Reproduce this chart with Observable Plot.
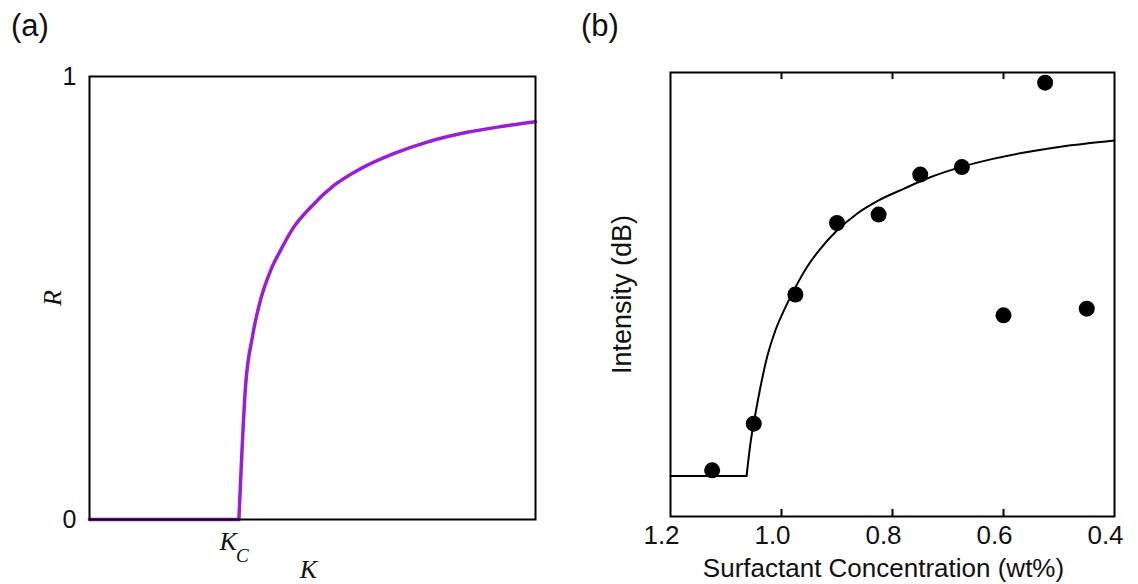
<!DOCTYPE html>
<html>
<head>
<meta charset="utf-8">
<script src="https://cdn.jsdelivr.net/npm/d3@7"></script>
<script src="https://cdn.jsdelivr.net/npm/@observablehq/plot@0.6"></script>
<style>
  html, body { margin: 0; padding: 0; background: #fff; }
  #wrap { position: relative; width: 1138px; height: 584px; overflow: hidden; font-family: "Liberation Sans", Arial, sans-serif; }
  .panel { position: absolute; top: 0; }
  .plabel { position: absolute; font-size: 31px; line-height: 31px; color: #111; }
</style>
</head>
<body>
<div id="wrap">
  <div class="panel" id="pa" style="left:0"></div>
  <div class="panel" id="pb" style="left:569px"></div>
  <div class="plabel" style="left:11px; top:10px">(a)</div>
  <div class="plabel" style="left:581px; top:10px">(b)</div>
</div>
<script>
// ---- Panel (a) data ----
const kFlat = [0, 0.335];
const rFlat = [0, 0];
const kValues = [0.335, 0.350, 0.365, 0.383, 0.406, 0.428, 0.458, 0.496, 0.548, 0.608, 0.682, 0.757, 0.847, 0.922, 1.0];
const rValues = [0, 0.302, 0.411, 0.494, 0.562, 0.607, 0.660, 0.705, 0.754, 0.792, 0.826, 0.852, 0.874, 0.887, 0.898];
const kcValue = 0.335;
const yTicksA = [0, 1];

// ---- Panel (b) data ----
const concentration = [1.125, 1.05, 0.975, 0.9, 0.825, 0.75, 0.675, 0.6, 0.525, 0.45];
const intensity = [0.104, 0.209, 0.500, 0.661, 0.680, 0.770, 0.787, 0.453, 0.977, 0.468];
const fitFlatConc = [1.2, 1.063];
const fitFlatVal = [0.091, 0.091];
const fitConc = [1.063, 1.056, 1.047, 1.038, 1.026, 1.011, 0.993, 0.975, 0.954, 0.930, 0.900, 0.864, 0.825, 0.780, 0.732, 0.674, 0.617, 0.557, 0.497, 0.4];
const fitVal = [0.091, 0.164, 0.231, 0.291, 0.359, 0.419, 0.471, 0.516, 0.562, 0.603, 0.644, 0.682, 0.712, 0.738, 0.764, 0.788, 0.806, 0.821, 0.833, 0.847];
const xTickLabelsB = [1.2, 1.0, 0.8, 0.6, 0.4];
const xInnerTicksB = [1.0, 0.8, 0.6];

const sans = "Liberation Sans, Arial, sans-serif";
const serif = "Liberation Serif, Times New Roman, serif";
const purple = "#9a1ed6";
const innerTickLen = 0.016; // length of inward ticks, as a fraction of the y domain

const flatA = kFlat.map((k, i) => ({k, r: rFlat[i]}));
const curveA = kValues.map((k, i) => ({k, r: rValues[i]}));
const pointsB = concentration.map((c, i) => ({c, v: intensity[i]}));
const flatB = fitFlatConc.map((c, i) => ({c, v: fitFlatVal[i]}));
const fitB = fitConc.map((c, i) => ({c, v: fitVal[i]}));
const ticksB = xInnerTicksB.map(c => ({c}));

const plotA = Plot.plot({
  width: 569, height: 584,
  marginLeft: 89, marginRight: 34, marginTop: 76, marginBottom: 65,
  x: {domain: [0, 1], axis: null},
  y: {domain: [0, 1], axis: null},
  style: {fontFamily: sans, fontSize: "25px", background: "transparent", overflow: "visible", color: "#111"},
  marks: [
    Plot.axisY({ticks: yTicksA, tickSize: 0, tickPadding: 13, label: null, fontSize: 25, tickFormat: d3.format("d")}),
    Plot.line(flatA, {x: "k", y: "r", stroke: purple, strokeWidth: 3.5}),
    Plot.line(curveA, {x: "k", y: "r", stroke: purple, strokeWidth: 3.5, curve: "monotone-x"}),
    Plot.frame({stroke: "black", strokeWidth: 2}),
    Plot.text([kcValue], {x: d => d, text: () => "K", frameAnchor: "bottom", textAnchor: "end", dx: -2, dy: 22, lineAnchor: "middle", fontFamily: serif, fontStyle: "italic", fontSize: 26}),
    Plot.text([kcValue], {x: d => d, text: () => "C", frameAnchor: "bottom", textAnchor: "start", dx: -3, dy: 36, lineAnchor: "middle", fontFamily: serif, fontStyle: "italic", fontSize: 19}),
    Plot.text(["K"], {text: d => d, frameAnchor: "bottom", textAnchor: "middle", dx: -4, dy: 50, lineAnchor: "middle", fontFamily: serif, fontStyle: "italic", fontSize: 26}),
    Plot.text(["R"], {text: d => d, frameAnchor: "left", textAnchor: "middle", dx: -37, rotate: -90, lineAnchor: "middle", fontFamily: serif, fontStyle: "italic", fontSize: 26})
  ]
});
document.getElementById("pa").appendChild(plotA);

const plotB = Plot.plot({
  width: 569, height: 584,
  marginLeft: 101, marginRight: 24, marginTop: 72, marginBottom: 68,
  x: {domain: [1.2, 0.4], axis: null},
  y: {domain: [0, 1], axis: null},
  style: {fontFamily: sans, fontSize: "26px", background: "transparent", overflow: "visible", color: "#111"},
  marks: [
    Plot.axisX({anchor: "bottom", ticks: xTickLabelsB, tickSize: 0, tickPadding: 9, tickFormat: d3.format(".1f"), label: null, fontSize: 26, dx: -9}),
    Plot.ruleX(ticksB, {x: "c", y1: 0, y2: innerTickLen, stroke: "black", strokeWidth: 2}),
    Plot.ruleX(ticksB, {x: "c", y1: 1 - innerTickLen, y2: 1, stroke: "black", strokeWidth: 2}),
    Plot.line(flatB, {x: "c", y: "v", stroke: "black", strokeWidth: 2}),
    Plot.line(fitB, {x: "c", y: "v", stroke: "black", strokeWidth: 2, curve: "monotone-x"}),
    Plot.dot(pointsB, {x: "c", y: "v", r: 8, fill: "black"}),
    Plot.frame({stroke: "black", strokeWidth: 2}),
    Plot.text(["Surfactant Concentration (wt%)"], {text: d => d, frameAnchor: "bottom", textAnchor: "middle", dx: -9, dy: 52, lineAnchor: "middle", fontSize: 26}),
    Plot.text(["Intensity (dB)"], {text: d => d, frameAnchor: "left", textAnchor: "middle", dx: -48, rotate: -90, lineAnchor: "middle", fontSize: 27})
  ]
});
document.getElementById("pb").appendChild(plotB);
</script>
</body>
</html>
